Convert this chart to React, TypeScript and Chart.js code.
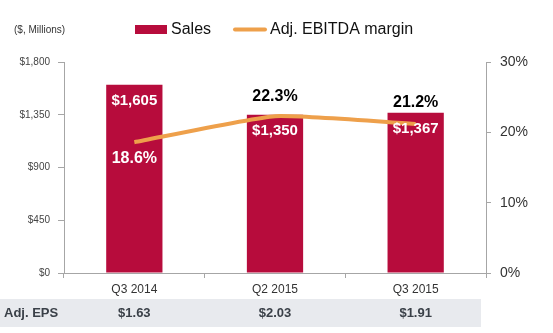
import React, { useEffect, useRef } from "react";
import { Chart, registerables } from "chart.js";

Chart.register(...registerables);

const categories = ["Q3 2014", "Q2 2015", "Q3 2015"];
const sales = [1605, 1350, 1367];
const ebitdaMargin = [18.6, 22.3, 21.2];
const eps = ["$1.63", "$2.03", "$1.91"];
const salesTicks = [0, 450, 900, 1350, 1800];

const BAR_COLOR = "#B70C3C";
const LINE_COLOR = "#EEA04B";
const AXIS_COLOR = "#A6A6A6";
const FONT = "'Liberation Sans', Arial, sans-serif";

// label offsets (px) relative to the mark, styling only
const marginLabelOffsets = [16, -20, -21];
const salesLabelOffset = 16;

const fmtMoney = (v: number) => "$" + v.toLocaleString("en-US");

const overlayPlugin = {
  id: "overlay",
  afterDraw(chart: any) {
    const ctx = chart.ctx as CanvasRenderingContext2D;
    ctx.save();
    // subtitle
    ctx.fillStyle = "#333";
    ctx.font = `10px ${FONT}`;
    ctx.textAlign = "left";
    ctx.textBaseline = "middle";
    ctx.fillText("($, Millions)", 14, 30);
    // legend
    ctx.fillStyle = BAR_COLOR;
    ctx.fillRect(135, 25, 32, 9);
    ctx.fillStyle = "#111";
    ctx.font = `16px ${FONT}`;
    ctx.fillText("Sales", 171, 30);
    ctx.strokeStyle = LINE_COLOR;
    ctx.lineWidth = 4;
    ctx.lineCap = "round";
    ctx.beginPath();
    ctx.moveTo(235, 29.5);
    ctx.lineTo(265, 29.5);
    ctx.stroke();
    ctx.fillText("Adj. EBITDA margin", 270, 30);

    // bar value labels
    const barMeta = chart.getDatasetMeta(0);
    ctx.textAlign = "center";
    ctx.font = `bold 15px ${FONT}`;
    ctx.fillStyle = "#fff";
    barMeta.data.forEach((el: any, i: number) => {
      ctx.fillText(fmtMoney(sales[i]), el.x, el.y + salesLabelOffset);
    });
    // margin labels
    const lineMeta = chart.getDatasetMeta(1);
    ctx.font = `bold 16px ${FONT}`;
    lineMeta.data.forEach((el: any, i: number) => {
      const off = marginLabelOffsets[i];
      ctx.fillStyle = off > 0 ? "#fff" : "#000";
      ctx.fillText(ebitdaMargin[i].toFixed(1) + "%", el.x, el.y + off);
    });

    // EPS row
    const xScale = chart.scales.x;
    ctx.fillStyle = "#E8EAEE";
    ctx.fillRect(0, 299, chart.scales.y1.left - 5, 28);
    ctx.fillStyle = "#3A4048";
    ctx.font = `bold 13px ${FONT}`;
    ctx.textAlign = "left";
    ctx.fillText("Adj. EPS", 4, 313);
    ctx.textAlign = "center";
    eps.forEach((e, i) => {
      ctx.fillText(e, xScale.getPixelForValue(i), 313);
    });
    ctx.restore();
  },
};

export default function App() {
  const ref = useRef<HTMLCanvasElement>(null);
  useEffect(() => {
    document.body.style.margin = "0";
    const chart = new Chart(ref.current!, {
      type: "bar",
      data: {
        labels: categories,
        datasets: [
          {
            type: "bar",
            label: "Sales",
            data: sales,
            backgroundColor: BAR_COLOR,
            yAxisID: "y",
            order: 1,
            barPercentage: 0.4,
            categoryPercentage: 1,
          } as any,
          {
            type: "line",
            label: "Adj. EBITDA margin",
            data: ebitdaMargin,
            borderColor: LINE_COLOR,
            backgroundColor: LINE_COLOR,
            borderWidth: 4,
            pointRadius: 0,
            tension: 0.15,
            yAxisID: "y1",
            order: 0,
          } as any,
        ],
      },
      options: {
        animation: false,
        responsive: false,
        layout: { padding: { top: 62, left: 0, right: 0, bottom: 0 } },
        plugins: { legend: { display: false }, tooltip: { enabled: false } },
        scales: {
          x: {
            offset: true,
            grid: { drawOnChartArea: false, color: AXIS_COLOR, tickLength: 5, offset: true },
            border: { color: AXIS_COLOR },
            ticks: { color: "#333", font: { family: FONT, size: 12 }, padding: 4 },
            afterFit: (s: any) => { s.height = 60; },
          },
          y: {
            position: "left",
            min: 0,
            max: 1800,
            afterBuildTicks: (s: any) => { s.ticks = salesTicks.map((v) => ({ value: v })); },
            grid: { drawOnChartArea: false, color: AXIS_COLOR, tickLength: 6 },
            border: { color: AXIS_COLOR },
            ticks: {
              color: "#444",
              font: { family: FONT, size: 10 },
              padding: 8,
              callback: (v: any) => fmtMoney(Number(v)),
            },
            afterFit: (s: any) => { s.width = 64; },
          },
          y1: {
            position: "right",
            min: 0,
            max: 30,
            ticks: {
              stepSize: 10,
              color: "#333",
              font: { family: FONT, size: 14 },
              padding: 9,
              callback: (v: any) => v + "%",
            },
            grid: { drawOnChartArea: false, color: AXIS_COLOR, tickLength: 5 },
            border: { color: AXIS_COLOR },
            afterFit: (s: any) => { s.width = 67; },
          },
        },
      },
      plugins: [overlayPlugin],
    });
    return () => chart.destroy();
  }, []);
  return (
    <div style={{ width: 553, height: 333, background: "#fff" }}>
      <canvas ref={ref} width={553} height={333} style={{ display: "block" }} />
    </div>
  );
}
